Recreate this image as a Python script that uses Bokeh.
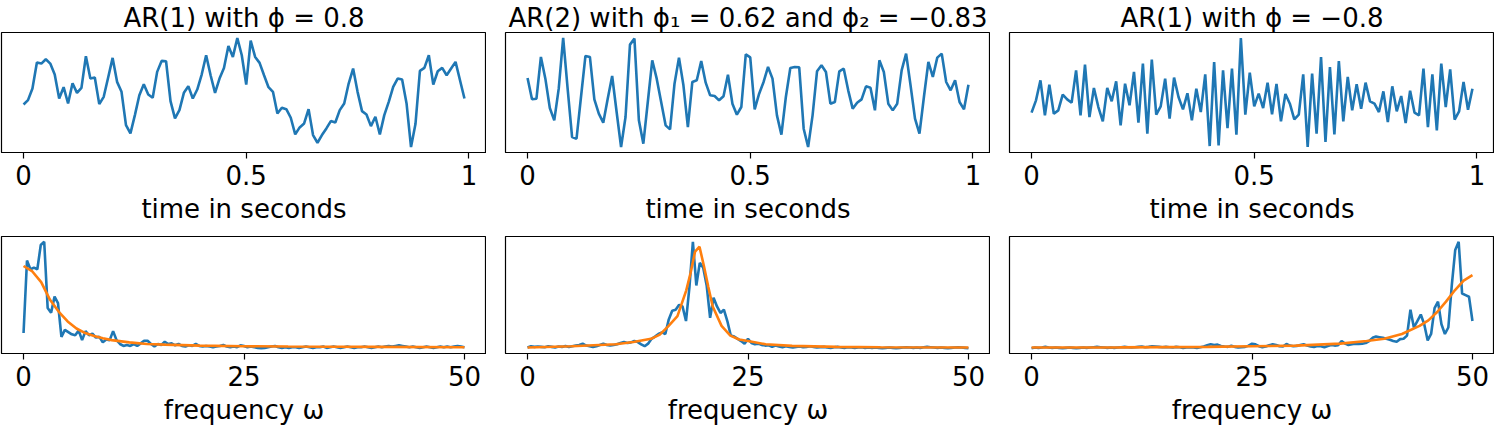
from bokeh.plotting import figure
from bokeh.layouts import column, row
from bokeh.models import FixedTicker, Range1d
from bokeh.embed import file_html
from bokeh.resources import INLINE

BLUE = "#1f77b4"
ORANGE = "#ff7f0e"
FONT = "DejaVu Sans"

# ---- data -------------------------------------------------------------
time_s = [i / 100 for i in range(100)]

series_ar1_pos = [
    0.12, 0.25, 0.60, 1.38, 1.35, 1.48, 1.35, 1.02, 0.30, 0.64,
    0.15, 0.76, 0.47, 0.62, 1.57, 0.90, 0.93, 0.13, 0.35, 0.93,
    1.52, 0.80, 0.50, -0.50, -0.75, -0.20, 0.40, 0.73, 0.42, 0.32,
    1.10, 1.43, 1.42, 0.22, -0.30, -0.05, 0.47, 0.67, 0.30, 0.57,
    1.02, 1.60, 1.00, 0.47, 0.90, 1.22, 1.88, 1.55, 2.12, 1.60,
    0.72, 2.04, 1.55, 1.37, 1.00, 0.64, 0.50, -0.15, 0.02, -0.02,
    -0.28, -0.78, -0.57, -0.45, -0.02, -0.80, -1.03, -0.80, -0.60, -0.38,
    -0.42, -0.05, 0.15, 0.75, 1.20, 0.50, -0.08, -0.18, -0.53, -0.25,
    -0.78, -0.20, 0.20, 0.65, 0.90, 0.87, 0.15, -1.16, -0.47, 1.13,
    1.22, 1.60, 0.72, 1.12, 1.22, 1.00, 1.20, 1.40, 0.85, 0.30,
]

series_ar2 = [
    0.52, -0.12, -0.10, 1.15, 0.50, -0.38, -0.75, 0.20, 1.72, 0.20,
    -1.25, -1.30, -0.05, 1.18, 1.15, -0.12, -0.55, -0.82, -0.10, 0.58,
    -0.50, -1.55, -0.65, 1.52, 1.70, -0.75, -1.45, -0.20, 1.05, 0.50,
    -0.20, -0.90, -1.02, 0.35, 1.13, 0.30, -0.95, 0.40, 0.45, 1.03,
    0.38, 0.00, -0.02, -0.15, -0.03, 0.62, -0.25, -0.58, -0.35, 1.23,
    1.14, -0.42, 0.05, 0.40, 0.85, 0.50, -0.60, -1.18, -0.05, 0.82,
    0.85, 0.84, -1.00, -1.55, -0.60, 0.72, 0.90, 0.70, -0.25, -0.20,
    0.72, 0.80, 0.15, -0.40, -0.22, -0.12, 0.27, 0.23, -0.45, 1.05,
    0.70, -0.25, -0.45, -0.25, 0.75, 1.25, 0.30, -0.70, -1.15, -0.05,
    1.00, 0.55, 1.13, 1.25, 0.40, 0.15, 0.45, -0.20, -0.42, 0.32,
]

series_ar1_neg = [
    -0.42, -0.05, 0.55, -0.50, 0.42, -0.45, -0.35, 0.12, -0.02, -0.12,
    0.85, -0.50, 1.02, -0.55, 0.32, -0.25, -0.68, 0.32, -0.08, 0.52,
    -0.80, 0.45, -0.20, 0.80, -0.72, 1.05, -1.05, 1.17, -0.48, -0.23,
    0.60, -0.60, 0.63, 0.05, -0.32, 0.16, -0.65, 0.30, -0.40, 0.73,
    -1.42, 1.10, -1.40, 0.85, -0.88, 0.90, -1.08, 1.82, -0.48, 0.78,
    -0.23, 0.15, -0.28, 0.48, -0.47, 0.44, -0.68, 0.14, -0.15, -0.62,
    -0.48, 0.73, -1.45, 0.75, -1.05, 1.25, -1.30, 0.95, -1.07, 1.13,
    -0.68, 0.65, -0.35, 0.43, -0.30, 0.48, -0.08, -0.15, -0.40, 0.22,
    -0.70, 0.37, -0.38, 0.08, -0.73, 0.24, -0.42, -0.50, 0.90, -0.85,
    0.73, -0.95, 1.05, -0.25, 0.88, -0.63, -0.38, 0.50, -0.33, 0.30,
]

freq = [k * 100 / 256 for k in range(129)]

pgram_ar1_pos = [
    4.8, 27.3, 24.6, 25.1, 24.6, 32.1, 33.1, 12.6, 11.1, 16.1,
    14.1, 3.6, 5.8, 5.1, 4.4, 4.1, 5.6, 2.6, 5.4, 4.1,
    4.6, 3.4, 3.6, 1.9, 2.8, 2.6, 5.4, 2.6, 1.4, 0.8,
    1.1, 0.8, 1.4, 0.8, 1.6, 2.4, 2.4, 1.4, 0.6, 1.4,
    1.1, 2.1, 1.4, 1.6, 1.0, 1.4, 0.8, 0.6, 1.0, 0.8,
    1.4, 0.8, 0.6, 0.8, 0.6, 0.4, 0.6, 0.8, 1.1, 0.6,
    0.4, 0.6, 0.4, 1.0, 0.8, 0.4, 0.6, 0.4, 0.2, 0.1,
    0.2, 0.4, 0.6, 0.8, 0.4, 0.2, 0.4, 0.2, 0.4, 0.4,
    0.2, 0.4, 0.6, 0.4, 0.2, 0.4, 0.4, 0.6, 0.2, 0.4,
    0.6, 0.4, 0.2, 0.4, 0.6, 0.4, 0.2, 0.4, 0.4, 0.6,
    0.4, 0.2, 0.4, 0.6, 0.4, 0.6, 0.8, 0.6, 0.8, 1.0,
    0.8, 0.6, 0.4, 0.6, 0.4, 0.2, 0.4, 0.6, 0.4, 0.2,
    0.4, 0.6, 0.4, 0.6, 0.4, 0.6, 0.8, 0.6, 0.4,
]

pgram_ar2 = [
    0.4, 0.8, 0.6, 0.7, 0.6, 0.5, 0.8, 0.6, 0.4, 0.7,
    0.6, 0.9, 0.6, 0.8, 1.0, 1.2, 1.6, 1.0, 0.8, 0.6,
    0.8, 1.2, 1.6, 1.2, 1.0, 1.2, 1.4, 1.8, 2.1, 1.8,
    2.0, 2.4, 2.1, 1.4, 0.8, 1.6, 3.1, 3.8, 4.6, 5.1,
    4.6, 9.1, 11.8, 12.1, 13.6, 13.1, 8.6, 19.1, 33.1, 19.6,
    26.6, 25.1, 19.6, 9.6, 15.8, 13.1, 11.1, 12.1, 8.6, 4.1,
    3.8, 3.1, 2.4, 1.6, 3.1, 1.8, 1.4, 1.6, 1.2, 1.0,
    1.1, 0.6, 1.0, 0.7, 0.5, 0.8, 0.6, 0.4, 0.6, 0.7,
    0.5, 0.6, 0.8, 0.6, 0.4, 0.5, 0.6, 0.4, 0.3, 0.5,
    0.6, 0.4, 0.3, 0.5, 0.4, 0.3, 0.4, 0.5, 0.3, 0.4,
    0.3, 0.4, 0.3, 0.2, 0.3, 0.4, 0.3, 0.2, 0.3, 0.4,
    0.5, 0.4, 0.3, 0.4, 0.3, 0.5, 0.6, 0.5, 0.4, 0.3,
    0.4, 0.3, 0.2, 0.3, 0.4, 0.5, 0.4, 0.3, 0.2,
]

pgram_ar1_neg = [
    0.2, 0.4, 0.3, 0.4, 0.6, 0.4, 0.3, 0.4, 0.3, 0.2,
    0.3, 0.4, 0.3, 0.2, 0.3, 0.4, 0.3, 0.4, 0.5, 0.6,
    0.5, 0.4, 0.3, 0.4, 0.3, 0.4, 0.5, 0.6, 0.5, 0.4,
    0.5, 0.6, 0.7, 0.5, 0.6, 0.8, 0.7, 0.6, 0.5, 0.6,
    0.5, 0.4, 0.6, 0.5, 0.3, 0.4, 0.5, 0.4, 0.3, 0.5,
    0.7, 1.1, 1.4, 1.2, 1.3, 0.9, 0.7, 0.6, 1.0, 0.6,
    0.4, 0.5, 0.6, 1.0, 1.6, 1.4, 0.8, 0.5, 0.7, 1.1,
    1.4, 1.2, 0.8, 0.7, 1.5, 1.0, 0.8, 0.9, 1.2, 1.4,
    1.0, 0.7, 0.6, 0.9, 0.8, 0.5, 0.9, 1.2, 1.0, 1.1,
    2.4, 1.6, 1.2, 1.4, 1.6, 1.5, 1.6, 1.8, 2.4, 3.4,
    3.8, 3.6, 3.4, 3.1, 2.8, 2.4, 2.2, 3.0, 3.1, 4.1,
    12.1, 6.6, 8.6, 10.6, 7.6, 2.6, 4.6, 12.6, 14.6, 7.6,
    4.6, 6.6, 19.6, 30.6, 33.1, 17.1, 16.6, 16.1, 8.6,
]

spec_freq_ar1_pos = [0, 1, 2, 3, 4, 5, 6, 7, 8, 9, 10, 12, 14, 16, 20, 25, 30, 40, 50]
spec_ar1_pos = [25.6, 23.9, 20.6, 15.1, 11.4, 8.4, 6.2, 4.8, 3.9, 3.2, 2.6, 1.9, 1.4, 1.2, 0.9, 0.7, 0.6, 0.5, 0.4]

spec_freq_ar2 = [0, 5, 10, 12, 14, 15, 16, 17, 18, 18.5, 19, 19.5, 20, 20.5, 21, 22, 23, 24, 25, 27, 30, 35, 40, 50]
spec_ar2 = [0.4, 0.8, 1.4, 2.1, 3.1, 4.4, 7.1, 10.1, 18.1, 23.6, 30.1, 31.6, 25.6, 19.1, 13.1, 7.1, 4.1, 2.9, 2.4, 1.4, 0.9, 0.6, 0.5, 0.4]

spec_freq_ar1_neg = [0, 10, 20, 25, 30, 35, 38, 40, 42, 44, 45, 46, 47, 48, 49, 50]
spec_ar1_neg = [0.4, 0.45, 0.6, 0.8, 1.0, 1.6, 2.4, 3.1, 4.6, 7.1, 8.8, 11.4, 14.6, 18.1, 21.1, 22.8]

titles = ["AR(1) with \u03d5 = 0.8",
          "AR(2) with \u03d5\u2081 = 0.62 and \u03d5\u2082 = \u22120.83",
          "AR(1) with \u03d5 = \u22120.8"]
time_ticks = [0, 0.5, 1]
time_labels = ["0", "0.5", "1"]
freq_ticks = [0, 25, 50]
freq_labels = ["0", "25", "50"]
time_xlabel = "time in seconds"
freq_xlabel = "frequency \u03c9"

# ---- layout -------------------------------------------------------------
WIDTHS = [486, 504, 504]
LEFTS = [1, 19, 19]
TOP_BT, TOP_F, TOP_BB = 32, 120, 84
BOT_BT, BOT_F, BOT_BB = 0, 117, 76
FS = "26px"


def padded(lo, hi, frac=0.05):
    span = hi - lo
    return lo - frac * span, hi + frac * span


def style(p, ticks, labels, xlabel):
    p.xgrid.visible = False
    p.ygrid.visible = False
    p.yaxis.visible = False
    p.outline_line_color = "black"
    p.outline_line_width = 1.2
    p.background_fill_color = "white"
    p.border_fill_color = "white"
    ax = p.xaxis[0]
    ax.ticker = FixedTicker(ticks=ticks)
    ax.major_label_overrides = {t: l for t, l in zip(ticks, labels)}
    ax.minor_tick_line_color = None
    ax.major_tick_in = 0
    ax.major_tick_out = 6
    ax.major_tick_line_color = "black"
    ax.major_tick_line_width = 1.2
    ax.axis_line_color = "black"
    ax.axis_line_width = 1.2
    ax.major_label_text_font = FONT
    ax.major_label_text_font_size = FS
    ax.major_label_text_line_height = 1.0
    ax.major_label_text_color = "black"
    ax.major_label_standoff = 6
    ax.axis_label = xlabel
    ax.axis_label_text_font = FONT
    ax.axis_label_text_font_size = FS
    ax.axis_label_text_line_height = 1.0
    ax.axis_label_text_font_style = "normal"
    ax.axis_label_text_color = "black"
    ax.axis_label_standoff = 6


series = [series_ar1_pos, series_ar2, series_ar1_neg]
pgrams = [pgram_ar1_pos, pgram_ar2, pgram_ar1_neg]
spec_f = [spec_freq_ar1_pos, spec_freq_ar2, spec_freq_ar1_neg]
specs = [spec_ar1_pos, spec_ar2, spec_ar1_neg]

top_row, bot_row = [], []
for i in range(3):
    xr = padded(min(time_s), max(time_s))
    yr = padded(min(series[i]), max(series[i]))
    p = figure(width=WIDTHS[i], height=TOP_BT + TOP_F + TOP_BB,
               output_backend="svg", toolbar_location=None,
               min_border_left=LEFTS[i], min_border_right=0,
               min_border_top=TOP_BT, min_border_bottom=TOP_BB,
               x_range=Range1d(*xr), y_range=Range1d(*yr))
    p.line(time_s, series[i], line_color=BLUE, line_width=2.6)
    style(p, time_ticks, time_labels, time_xlabel)
    p.title.text = titles[i]
    p.title.text_font = FONT
    p.title.text_font_size = FS
    p.title.text_line_height = 1.0
    p.title.text_font_style = "normal"
    p.title.text_color = "black"
    p.title.align = "center"
    p.title.standoff = 0
    top_row.append(p)

    fx = padded(min(freq), max(freq))
    lo = min(min(pgrams[i]), min(specs[i]))
    hi = max(max(pgrams[i]), max(specs[i]))
    fy = padded(lo, hi)
    q = figure(width=WIDTHS[i], height=BOT_BT + BOT_F + BOT_BB,
               output_backend="svg", toolbar_location=None,
               min_border_left=LEFTS[i], min_border_right=0,
               min_border_top=BOT_BT, min_border_bottom=BOT_BB,
               x_range=Range1d(*fx), y_range=Range1d(*fy))
    q.line(freq, pgrams[i], line_color=BLUE, line_width=2.6)
    q.line(spec_f[i], specs[i], line_color=ORANGE, line_width=2.6)
    style(q, freq_ticks, freq_labels, freq_xlabel)
    bot_row.append(q)

layout = column(row(*top_row), row(*bot_row))
open("out.html", "w").write(file_html(layout, INLINE))
